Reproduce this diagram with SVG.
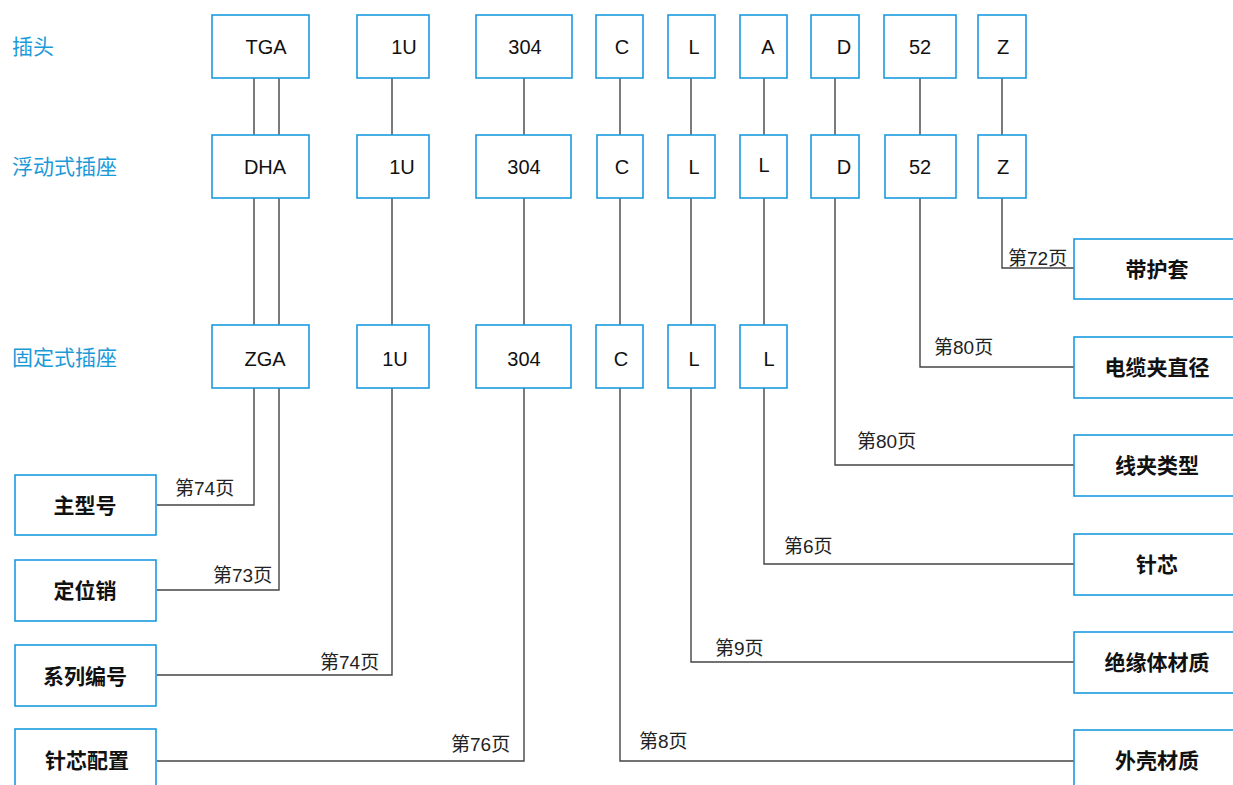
<svg xmlns="http://www.w3.org/2000/svg" width="1233" height="785" viewBox="0 0 1233 785">
<style>
.box{fill:#fff;stroke:#1b9be0;stroke-width:1.6}
.code{font-family:"Liberation Sans","Noto Sans CJK SC",sans-serif;font-size:20px;fill:#111;text-anchor:middle}
.row{font-family:"Noto Sans CJK SC",sans-serif;font-size:21px;fill:#1b9ad8}
.cat{font-family:"Noto Sans CJK SC",sans-serif;font-size:21px;font-weight:bold;fill:#111;text-anchor:middle}
.pg{font-family:"Liberation Sans","Noto Sans CJK SC",sans-serif;font-size:19px;fill:#222}
.ln{fill:none;stroke:#444;stroke-width:1.4}
</style>
<rect width="1233" height="785" fill="#fff"/>
<g id="row-labels">
<text class="row" x="12" y="54">插头</text>
<text class="row" x="12" y="174">浮动式插座</text>
<text class="row" x="12" y="365">固定式插座</text>
</g>
<g id="connectors">
<path class="ln" d="M254 78V135M279 78V135M392 78V135M524 78V135M620 78V135M691 78V135M764 78V135M835 78V135M920 78V135M1002 78V135"/>
<path class="ln" d="M254 198V325M279 198V325M392 198V325M524 198V325M620 198V325M691 198V325M764 198V325"/>
<path class="ln" d="M254 388V505H157M279 388V590H157M392 388V675H157M524 388V761H157"/>
<path class="ln" d="M620 388V761H1074M691 388V662H1074M764 388V564H1074M835 198V465H1074M920 198V367H1074M1002 198V268H1074"/>
</g>
<g id="row1">
<g id="n-TGA"><rect class="box" x="212" y="15" width="97" height="63"/><text class="code" x="266" y="54">TGA</text></g>
<g id="n-1U-1"><rect class="box" x="357" y="15" width="72" height="63"/><text class="code" x="404" y="54">1U</text></g>
<g id="n-304-1"><rect class="box" x="476" y="15" width="96" height="63"/><text class="code" x="525" y="54">304</text></g>
<g id="n-C-1"><rect class="box" x="596" y="15" width="47" height="63"/><text class="code" x="622" y="54">C</text></g>
<g id="n-L-1"><rect class="box" x="668" y="15" width="47" height="63"/><text class="code" x="694" y="54">L</text></g>
<g id="n-A-1"><rect class="box" x="740" y="15" width="47" height="63"/><text class="code" x="768" y="54">A</text></g>
<g id="n-D-1"><rect class="box" x="811" y="15" width="48" height="63"/><text class="code" x="844" y="54">D</text></g>
<g id="n-52-1"><rect class="box" x="884" y="15" width="72" height="63"/><text class="code" x="920" y="54">52</text></g>
<g id="n-Z-1"><rect class="box" x="978" y="15" width="48" height="63"/><text class="code" x="1003" y="54">Z</text></g>
</g>
<g id="row2">
<g id="n-DHA"><rect class="box" x="212" y="135" width="97" height="63"/><text class="code" x="265" y="174">DHA</text></g>
<g id="n-1U-2"><rect class="box" x="357" y="135" width="72" height="63"/><text class="code" x="402" y="174">1U</text></g>
<g id="n-304-2"><rect class="box" x="476" y="135" width="95" height="63"/><text class="code" x="524" y="174">304</text></g>
<g id="n-C-2"><rect class="box" x="597" y="135" width="46" height="63"/><text class="code" x="622" y="174">C</text></g>
<g id="n-L-2"><rect class="box" x="668" y="135" width="47" height="63"/><text class="code" x="694" y="174">L</text></g>
<g id="n-L2-2"><rect class="box" x="740" y="135" width="47" height="63"/><text class="code" x="764" y="172">L</text></g>
<g id="n-D-2"><rect class="box" x="811" y="135" width="48" height="63"/><text class="code" x="844" y="174">D</text></g>
<g id="n-52-2"><rect class="box" x="885" y="135" width="71" height="63"/><text class="code" x="920" y="174">52</text></g>
<g id="n-Z-2"><rect class="box" x="978" y="135" width="48" height="63"/><text class="code" x="1003" y="174">Z</text></g>
</g>
<g id="row3">
<g id="n-ZGA"><rect class="box" x="212" y="325" width="97" height="63"/><text class="code" x="265" y="366">ZGA</text></g>
<g id="n-1U-3"><rect class="box" x="357" y="325" width="72" height="63"/><text class="code" x="395" y="366">1U</text></g>
<g id="n-304-3"><rect class="box" x="476" y="325" width="95" height="63"/><text class="code" x="524" y="366">304</text></g>
<g id="n-C-3"><rect class="box" x="596" y="325" width="47" height="63"/><text class="code" x="621" y="366">C</text></g>
<g id="n-L-3"><rect class="box" x="668" y="325" width="47" height="63"/><text class="code" x="694" y="366">L</text></g>
<g id="n-L2-3"><rect class="box" x="740" y="325" width="47" height="63"/><text class="code" x="769" y="366">L</text></g>
</g>
<g id="left-cats">
<g id="c-main"><rect class="box" x="15" y="475" width="141" height="60"/><text class="cat" x="85" y="513">主型号</text></g>
<g id="c-pin"><rect class="box" x="15" y="560" width="141" height="61"/><text class="cat" x="85" y="598">定位销</text></g>
<g id="c-series"><rect class="box" x="15" y="645" width="141" height="61"/><text class="cat" x="85" y="684">系列编号</text></g>
<g id="c-config"><rect class="box" x="15" y="729" width="141" height="70"/><text class="cat" x="87" y="768">针芯配置</text></g>
</g>
<g id="right-cats">
<g id="c-sleeve"><rect class="box" x="1074" y="239" width="175" height="60"/><text class="cat" x="1157" y="277">带护套</text></g>
<g id="c-clampdia"><rect class="box" x="1074" y="337" width="175" height="61"/><text class="cat" x="1157" y="375">电缆夹直径</text></g>
<g id="c-clamptype"><rect class="box" x="1074" y="435" width="175" height="61"/><text class="cat" x="1157" y="473">线夹类型</text></g>
<g id="c-contact"><rect class="box" x="1074" y="534" width="175" height="61"/><text class="cat" x="1157" y="572">针芯</text></g>
<g id="c-insul"><rect class="box" x="1074" y="632" width="175" height="61"/><text class="cat" x="1157" y="670">绝缘体材质</text></g>
<g id="c-shell"><rect class="box" x="1074" y="730" width="175" height="70"/><text class="cat" x="1157" y="768">外壳材质</text></g>
</g>
<g id="page-labels">
<text class="pg" x="175" y="495">第74页</text>
<text class="pg" x="213" y="582">第73页</text>
<text class="pg" x="320" y="669">第74页</text>
<text class="pg" x="451" y="751">第76页</text>
<text class="pg" x="639" y="748">第8页</text>
<text class="pg" x="715" y="655">第9页</text>
<text class="pg" x="784" y="553">第6页</text>
<text class="pg" x="857" y="448">第80页</text>
<text class="pg" x="934" y="354">第80页</text>
<text class="pg" x="1008" y="265">第72页</text>
</g>
</svg>
